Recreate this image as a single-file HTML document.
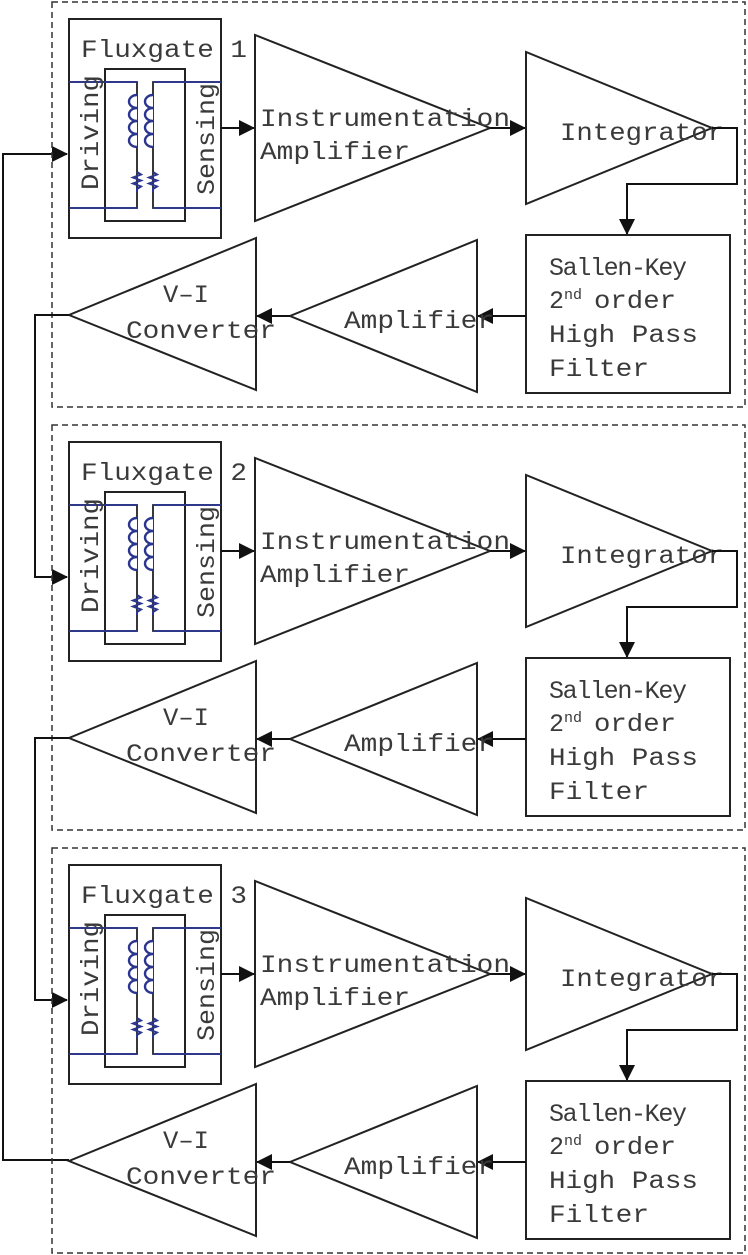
<!DOCTYPE html>
<html><head><meta charset="utf-8"><style>
html,body{margin:0;padding:0;background:#fff;}
svg{display:block;}
text{font-family:"Liberation Mono","DejaVu Sans Mono",monospace;font-size:25px;fill:#3a3a3a;font-weight:normal;}
</style></head><body>
<svg width="748" height="1255" viewBox="0 0 748 1255" xmlns="http://www.w3.org/2000/svg">
<defs>
<marker id="ah" markerWidth="16" markerHeight="16" refX="15" refY="8" orient="auto" markerUnits="userSpaceOnUse" viewBox="0 0 16 16">
<path d="M0,0 L16,8 L0,16 z" fill="#111"/>
</marker>
</defs>
<polyline points="69,1160 3,1160 3,154 67,154" fill="none" stroke="#111" stroke-width="2" marker-end="url(#ah)"/>
<g transform="translate(0,0)">
<rect x="52" y="2" width="693" height="405" fill="none" stroke="#333" stroke-width="1.5" stroke-dasharray="6,4"/>
<rect x="69" y="19" width="152" height="219" fill="none" stroke="#222" stroke-width="2"/>
<rect x="105" y="69" width="80" height="152" fill="none" stroke="#222" stroke-width="2"/>
<polyline points="69,82 137,82 137,208 69,208" fill="none" stroke="#222" stroke-width="1.8"/>
<polyline points="221,82 153,82 153,208 221,208" fill="none" stroke="#222" stroke-width="1.8"/>
<line x1="69" y1="82" x2="137" y2="82" stroke="#2a3590" stroke-width="1.8"/>
<line x1="153" y1="82" x2="221" y2="82" stroke="#2a3590" stroke-width="1.8"/>
<line x1="69" y1="208" x2="137" y2="208" stroke="#2a3590" stroke-width="1.8"/>
<line x1="153" y1="208" x2="221" y2="208" stroke="#2a3590" stroke-width="1.8"/>
<path d="M137,95 a8,6.5 0 1 0 0,13 a8,6.5 0 1 0 0,13 a8,6.5 0 1 0 0,13 a8,6.5 0 1 0 0,13" fill="#fff" stroke="#2a3590" stroke-width="2.4"/>
<path d="M153,95 a8,6.5 0 1 0 0,13 a8,6.5 0 1 0 0,13 a8,6.5 0 1 0 0,13 a8,6.5 0 1 0 0,13" fill="#fff" stroke="#2a3590" stroke-width="2.4"/>
<path d="M137,172 l4,2.5 l-8,3 l8,3 l-8,3 l8,3 l-4,2.5 l0,3" fill="none" stroke="#2a3590" stroke-width="2"/>
<path d="M153,172 l4,2.5 l-8,3 l8,3 l-8,3 l8,3 l-4,2.5 l0,3" fill="none" stroke="#2a3590" stroke-width="2"/>
<text x="81" y="57" textLength="166" lengthAdjust="spacingAndGlyphs">Fluxgate 1</text>
<text transform="translate(98,190) rotate(-90)" textLength="115" lengthAdjust="spacingAndGlyphs">Driving</text>
<text transform="translate(214,195) rotate(-90)" textLength="112" lengthAdjust="spacingAndGlyphs">Sensing</text>
<line x1="221" y1="128" x2="254" y2="128" stroke="#111" stroke-width="2" marker-end="url(#ah)"/>
<polygon points="255,35 255,221 490,128" fill="none" stroke="#222" stroke-width="2"/>
<text x="260" y="126" textLength="250" lengthAdjust="spacingAndGlyphs">Instrumentation</text>
<text x="260" y="159" textLength="150" lengthAdjust="spacingAndGlyphs">Amplifier</text>
<line x1="490" y1="128" x2="525" y2="128" stroke="#111" stroke-width="2" marker-end="url(#ah)"/>
<polygon points="526,52 526,204 712,128" fill="none" stroke="#222" stroke-width="2"/>
<text x="560" y="140" textLength="164" lengthAdjust="spacingAndGlyphs">Integrator</text>
<polyline points="712,128 737,128 737,184 627,184 627,234" fill="none" stroke="#111" stroke-width="2" marker-end="url(#ah)"/>
<rect x="526" y="235" width="204" height="158" fill="none" stroke="#222" stroke-width="2"/>
<text x="549" y="275" textLength="138" lengthAdjust="spacing">Sallen-Key</text>
<text x="549" y="308">2<tspan font-size="15" dy="-9">nd</tspan><tspan dy="9" x="594" textLength="82" lengthAdjust="spacingAndGlyphs">order</tspan></text>
<text x="549" y="342" textLength="149" lengthAdjust="spacingAndGlyphs">High Pass</text>
<text x="549" y="376" textLength="100" lengthAdjust="spacingAndGlyphs">Filter</text>
<line x1="526" y1="316" x2="478" y2="316" stroke="#111" stroke-width="2" marker-end="url(#ah)"/>
<polygon points="477,240 477,392 290,316" fill="none" stroke="#222" stroke-width="2"/>
<text x="344" y="328" textLength="150" lengthAdjust="spacingAndGlyphs">Amplifier</text>
<line x1="290" y1="316" x2="257" y2="316" stroke="#111" stroke-width="2" marker-end="url(#ah)"/>
<polygon points="256,238 256,390 69,315" fill="none" stroke="#222" stroke-width="2"/>
<text x="163" y="302" textLength="46" lengthAdjust="spacingAndGlyphs">V–I</text>
<text x="126" y="338" textLength="150" lengthAdjust="spacingAndGlyphs">Converter</text>
<polyline points="69,315 35,315 35,577 67,577" fill="none" stroke="#111" stroke-width="2" marker-end="url(#ah)"/>
</g>
<g transform="translate(0,423)">
<rect x="52" y="2" width="693" height="405" fill="none" stroke="#333" stroke-width="1.5" stroke-dasharray="6,4"/>
<rect x="69" y="19" width="152" height="219" fill="none" stroke="#222" stroke-width="2"/>
<rect x="105" y="69" width="80" height="152" fill="none" stroke="#222" stroke-width="2"/>
<polyline points="69,82 137,82 137,208 69,208" fill="none" stroke="#222" stroke-width="1.8"/>
<polyline points="221,82 153,82 153,208 221,208" fill="none" stroke="#222" stroke-width="1.8"/>
<line x1="69" y1="82" x2="137" y2="82" stroke="#2a3590" stroke-width="1.8"/>
<line x1="153" y1="82" x2="221" y2="82" stroke="#2a3590" stroke-width="1.8"/>
<line x1="69" y1="208" x2="137" y2="208" stroke="#2a3590" stroke-width="1.8"/>
<line x1="153" y1="208" x2="221" y2="208" stroke="#2a3590" stroke-width="1.8"/>
<path d="M137,95 a8,6.5 0 1 0 0,13 a8,6.5 0 1 0 0,13 a8,6.5 0 1 0 0,13 a8,6.5 0 1 0 0,13" fill="#fff" stroke="#2a3590" stroke-width="2.4"/>
<path d="M153,95 a8,6.5 0 1 0 0,13 a8,6.5 0 1 0 0,13 a8,6.5 0 1 0 0,13 a8,6.5 0 1 0 0,13" fill="#fff" stroke="#2a3590" stroke-width="2.4"/>
<path d="M137,172 l4,2.5 l-8,3 l8,3 l-8,3 l8,3 l-4,2.5 l0,3" fill="none" stroke="#2a3590" stroke-width="2"/>
<path d="M153,172 l4,2.5 l-8,3 l8,3 l-8,3 l8,3 l-4,2.5 l0,3" fill="none" stroke="#2a3590" stroke-width="2"/>
<text x="81" y="57" textLength="166" lengthAdjust="spacingAndGlyphs">Fluxgate 2</text>
<text transform="translate(98,190) rotate(-90)" textLength="115" lengthAdjust="spacingAndGlyphs">Driving</text>
<text transform="translate(214,195) rotate(-90)" textLength="112" lengthAdjust="spacingAndGlyphs">Sensing</text>
<line x1="221" y1="128" x2="254" y2="128" stroke="#111" stroke-width="2" marker-end="url(#ah)"/>
<polygon points="255,35 255,221 490,128" fill="none" stroke="#222" stroke-width="2"/>
<text x="260" y="126" textLength="250" lengthAdjust="spacingAndGlyphs">Instrumentation</text>
<text x="260" y="159" textLength="150" lengthAdjust="spacingAndGlyphs">Amplifier</text>
<line x1="490" y1="128" x2="525" y2="128" stroke="#111" stroke-width="2" marker-end="url(#ah)"/>
<polygon points="526,52 526,204 712,128" fill="none" stroke="#222" stroke-width="2"/>
<text x="560" y="140" textLength="164" lengthAdjust="spacingAndGlyphs">Integrator</text>
<polyline points="712,128 737,128 737,184 627,184 627,234" fill="none" stroke="#111" stroke-width="2" marker-end="url(#ah)"/>
<rect x="526" y="235" width="204" height="158" fill="none" stroke="#222" stroke-width="2"/>
<text x="549" y="275" textLength="138" lengthAdjust="spacing">Sallen-Key</text>
<text x="549" y="308">2<tspan font-size="15" dy="-9">nd</tspan><tspan dy="9" x="594" textLength="82" lengthAdjust="spacingAndGlyphs">order</tspan></text>
<text x="549" y="342" textLength="149" lengthAdjust="spacingAndGlyphs">High Pass</text>
<text x="549" y="376" textLength="100" lengthAdjust="spacingAndGlyphs">Filter</text>
<line x1="526" y1="316" x2="478" y2="316" stroke="#111" stroke-width="2" marker-end="url(#ah)"/>
<polygon points="477,240 477,392 290,316" fill="none" stroke="#222" stroke-width="2"/>
<text x="344" y="328" textLength="150" lengthAdjust="spacingAndGlyphs">Amplifier</text>
<line x1="290" y1="316" x2="257" y2="316" stroke="#111" stroke-width="2" marker-end="url(#ah)"/>
<polygon points="256,238 256,390 69,315" fill="none" stroke="#222" stroke-width="2"/>
<text x="163" y="302" textLength="46" lengthAdjust="spacingAndGlyphs">V–I</text>
<text x="126" y="338" textLength="150" lengthAdjust="spacingAndGlyphs">Converter</text>
<polyline points="69,315 35,315 35,577 67,577" fill="none" stroke="#111" stroke-width="2" marker-end="url(#ah)"/>
</g>
<g transform="translate(0,846)">
<rect x="52" y="2" width="693" height="405" fill="none" stroke="#333" stroke-width="1.5" stroke-dasharray="6,4"/>
<rect x="69" y="19" width="152" height="219" fill="none" stroke="#222" stroke-width="2"/>
<rect x="105" y="69" width="80" height="152" fill="none" stroke="#222" stroke-width="2"/>
<polyline points="69,82 137,82 137,208 69,208" fill="none" stroke="#222" stroke-width="1.8"/>
<polyline points="221,82 153,82 153,208 221,208" fill="none" stroke="#222" stroke-width="1.8"/>
<line x1="69" y1="82" x2="137" y2="82" stroke="#2a3590" stroke-width="1.8"/>
<line x1="153" y1="82" x2="221" y2="82" stroke="#2a3590" stroke-width="1.8"/>
<line x1="69" y1="208" x2="137" y2="208" stroke="#2a3590" stroke-width="1.8"/>
<line x1="153" y1="208" x2="221" y2="208" stroke="#2a3590" stroke-width="1.8"/>
<path d="M137,95 a8,6.5 0 1 0 0,13 a8,6.5 0 1 0 0,13 a8,6.5 0 1 0 0,13 a8,6.5 0 1 0 0,13" fill="#fff" stroke="#2a3590" stroke-width="2.4"/>
<path d="M153,95 a8,6.5 0 1 0 0,13 a8,6.5 0 1 0 0,13 a8,6.5 0 1 0 0,13 a8,6.5 0 1 0 0,13" fill="#fff" stroke="#2a3590" stroke-width="2.4"/>
<path d="M137,172 l4,2.5 l-8,3 l8,3 l-8,3 l8,3 l-4,2.5 l0,3" fill="none" stroke="#2a3590" stroke-width="2"/>
<path d="M153,172 l4,2.5 l-8,3 l8,3 l-8,3 l8,3 l-4,2.5 l0,3" fill="none" stroke="#2a3590" stroke-width="2"/>
<text x="81" y="57" textLength="166" lengthAdjust="spacingAndGlyphs">Fluxgate 3</text>
<text transform="translate(98,190) rotate(-90)" textLength="115" lengthAdjust="spacingAndGlyphs">Driving</text>
<text transform="translate(214,195) rotate(-90)" textLength="112" lengthAdjust="spacingAndGlyphs">Sensing</text>
<line x1="221" y1="128" x2="254" y2="128" stroke="#111" stroke-width="2" marker-end="url(#ah)"/>
<polygon points="255,35 255,221 490,128" fill="none" stroke="#222" stroke-width="2"/>
<text x="260" y="126" textLength="250" lengthAdjust="spacingAndGlyphs">Instrumentation</text>
<text x="260" y="159" textLength="150" lengthAdjust="spacingAndGlyphs">Amplifier</text>
<line x1="490" y1="128" x2="525" y2="128" stroke="#111" stroke-width="2" marker-end="url(#ah)"/>
<polygon points="526,52 526,204 712,128" fill="none" stroke="#222" stroke-width="2"/>
<text x="560" y="140" textLength="164" lengthAdjust="spacingAndGlyphs">Integrator</text>
<polyline points="712,128 737,128 737,184 627,184 627,234" fill="none" stroke="#111" stroke-width="2" marker-end="url(#ah)"/>
<rect x="526" y="235" width="204" height="158" fill="none" stroke="#222" stroke-width="2"/>
<text x="549" y="275" textLength="138" lengthAdjust="spacing">Sallen-Key</text>
<text x="549" y="308">2<tspan font-size="15" dy="-9">nd</tspan><tspan dy="9" x="594" textLength="82" lengthAdjust="spacingAndGlyphs">order</tspan></text>
<text x="549" y="342" textLength="149" lengthAdjust="spacingAndGlyphs">High Pass</text>
<text x="549" y="376" textLength="100" lengthAdjust="spacingAndGlyphs">Filter</text>
<line x1="526" y1="316" x2="478" y2="316" stroke="#111" stroke-width="2" marker-end="url(#ah)"/>
<polygon points="477,240 477,392 290,316" fill="none" stroke="#222" stroke-width="2"/>
<text x="344" y="328" textLength="150" lengthAdjust="spacingAndGlyphs">Amplifier</text>
<line x1="290" y1="316" x2="257" y2="316" stroke="#111" stroke-width="2" marker-end="url(#ah)"/>
<polygon points="256,238 256,390 69,315" fill="none" stroke="#222" stroke-width="2"/>
<text x="163" y="302" textLength="46" lengthAdjust="spacingAndGlyphs">V–I</text>
<text x="126" y="338" textLength="150" lengthAdjust="spacingAndGlyphs">Converter</text>
</g>
</svg>
</body></html>
